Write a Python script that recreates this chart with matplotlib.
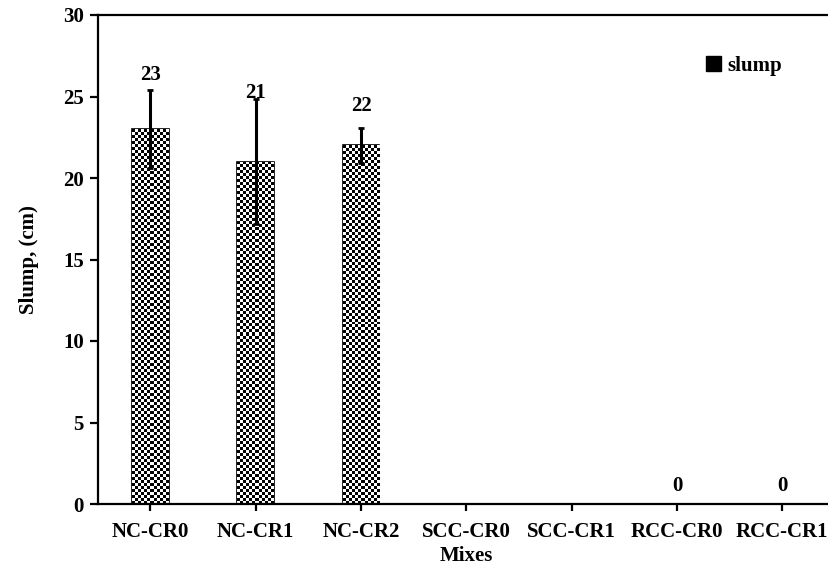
import numpy as np
import matplotlib
matplotlib.use("Agg")
import matplotlib.pyplot as plt
from matplotlib.patches import Rectangle

mixes = ["NC-CR0", "NC-CR1", "NC-CR2", "SCC-CR0", "SCC-CR1", "RCC-CR0", "RCC-CR1"]
slump = [23, 21, 22, 0, 0, 0, 0]
slump_err = [2.4, 3.85, 1.05, 0, 0, 0, 0]
value_labels = ["23", "21", "22", "", "", "0", "0"]
# label heights were placed by hand in the original chart
label_y = [26.3, 25.2, 24.4, 0, 0, 1.1, 1.1]

plt.rcParams["font.family"] = ["Liberation Serif", "DejaVu Serif"]
plt.rcParams["font.weight"] = "bold"
FS = 15

fig = plt.figure(figsize=(8.29, 5.69), dpi=100)
ax = fig.add_axes([97.7 / 829, 65 / 569, (835 - 97.7) / 829, 489 / 569])

x = np.arange(len(mixes))
width = 0.35
bars = ax.bar(x, slump, width, color="white", edgecolor="black", linewidth=1.2, zorder=2)


def checker(nx, ny):
    ii, jj = np.meshgrid(np.arange(nx), np.arange(ny))
    return ((ii + jj) % 2).astype(float)


# checkerboard fill (about 3 px cells) clipped to each bar
px_per_x = ax.get_position().width * 829 / 7.0
px_per_y = ax.get_position().height * 569 / 30.0
for b in bars:
    h = b.get_height()
    if h <= 0:
        continue
    nx = max(1, int(round(b.get_width() * px_per_x / 3.0)))
    ny = max(1, int(round(h * px_per_y / 3.0)))
    im = ax.imshow(checker(nx, ny), cmap="gray", vmin=0, vmax=1, interpolation="nearest",
                   extent=[b.get_x(), b.get_x() + b.get_width(), 0, h], aspect="auto", zorder=2)
    im.set_clip_path(b)

ax.set_aspect("auto")
ax.set_xlim(-0.5, 6.5)
ax.set_ylim(0, 30)

ax.errorbar(x[:3], slump[:3], yerr=slump_err[:3], fmt="none", ecolor="black",
            elinewidth=2.2, capsize=2.5, capthick=2, zorder=3)

for xi, lab, yy in zip(x, value_labels, label_y):
    if lab:
        ax.text(xi, yy, lab, ha="center", va="center", fontsize=FS, fontweight="bold")

for s in ["left", "bottom", "top"]:
    ax.spines[s].set_linewidth(1.6)
ax.spines["right"].set_visible(False)

ax.set_xticks(x)
ax.set_xticklabels(mixes, fontsize=FS, fontweight="bold")
ax.set_yticks(range(0, 31, 5))
ax.tick_params(axis="y", labelsize=FS, width=1.6, length=6, direction="out", pad=4)
ax.tick_params(axis="x", width=1.6, length=5, direction="out", pad=8)
ax.set_xlabel("Mixes", fontsize=FS, fontweight="bold", labelpad=3)
ax.set_ylabel("Slump, (cm)", fontsize=FS, fontweight="bold", labelpad=17)

handle = Rectangle((0, 0), 1, 1, facecolor="black", edgecolor="black")
ax.legend([handle], ["slump"], loc="upper left", bbox_to_anchor=(0.80, 0.955), frameon=False,
          handlelength=0.7, handleheight=0.7, handletextpad=0.3,
          prop={"size": FS, "weight": "bold"})

fig.savefig("out.png", dpi=100)
